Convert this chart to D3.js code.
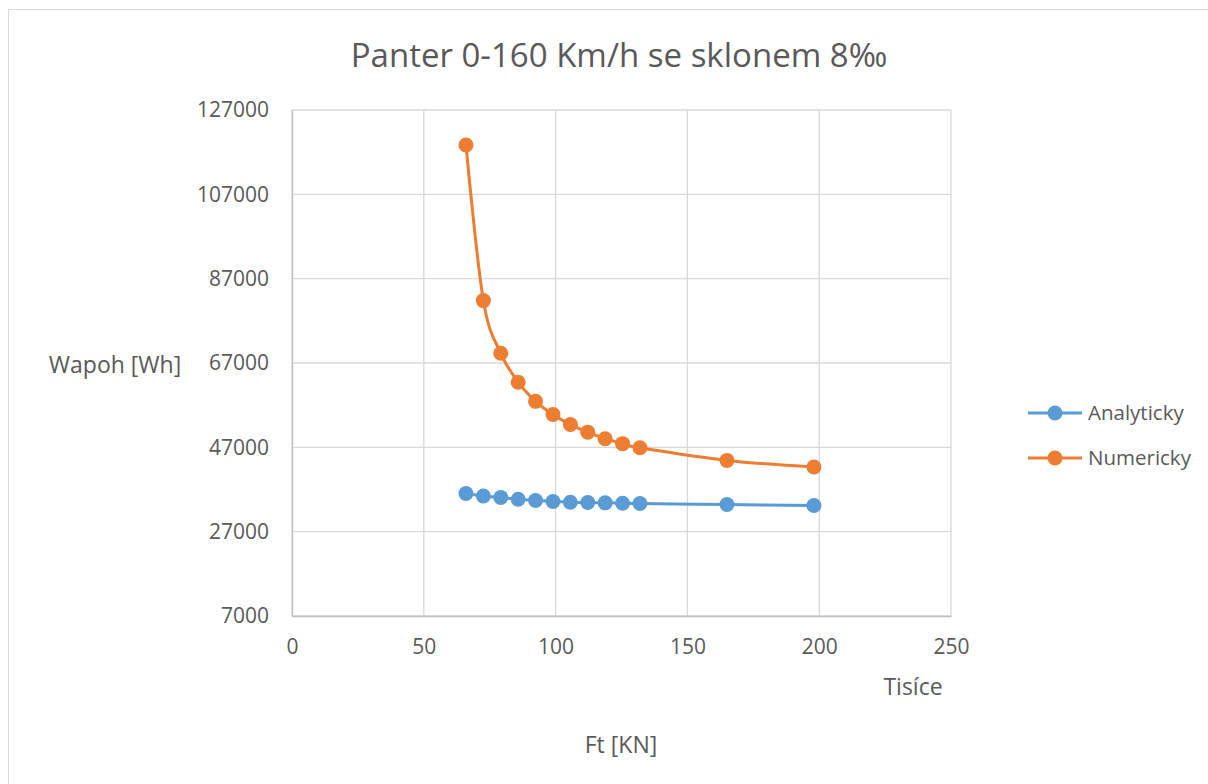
<!DOCTYPE html>
<html lang="cs">
<head>
    <meta charset="UTF-8">
    <title>Panter 0-160 Km/h se sklonem 8‰</title>
    <script src="https://d3js.org/d3.v7.min.js"></script>
    <style type="text/css">
        body { margin: 0; background: #fff; }
        text { font-family: 'Open Sans', sans-serif; fill: #595959; }
    </style>
</head>
<body>
    <svg width="1208" height="784"></svg>

    <script type="text/javascript">
        var ft = [66000, 72600, 79200, 85800, 92400, 99000, 105600, 112200, 118800, 125400, 132000, 165000, 198000];
        var analyticky = [36040, 35470, 35100, 34700, 34400, 34140, 33980, 33900, 33830, 33750, 33670, 33430, 33200];
        var numericky = [118700, 81800, 69300, 62450, 57900, 54800, 52400, 50600, 49050, 47870, 46900, 43900, 42350];
        var xTicks = [0, 50000, 100000, 150000, 200000, 250000];
        var yTicks = [7000, 27000, 47000, 67000, 87000, 107000, 127000];
        var seriesNames = ["Analyticky", "Numericky"];
        var colors = ["#5B9BD5", "#ED7D31"];

        var svg = d3.select("svg");
        var plotLeft = 292, plotRight = 951, plotTop = 110, plotBottom = 616;

        var x = d3.scaleLinear().domain([0, 250000]).range([plotLeft, plotRight]);
        var y = d3.scaleLinear().domain([7000, 127000]).range([plotBottom, plotTop]);

        // outer chart border
        svg.append("rect")
            .attr("x", 8.5).attr("y", 9.5)
            .attr("width", 1300).attr("height", 900)
            .attr("fill", "none").attr("stroke", "#d9d9d9");

        svg.append("text")
            .attr("x", 619).attr("y", 67)
            .attr("text-anchor", "middle")
            .style("font-size", "33px")
            .text("Panter 0-160 Km/h se sklonem 8‰");

        // grid
        var grid = svg.append("g").attr("stroke", "#d9d9d9").attr("stroke-width", 1.3);
        grid.selectAll("line.h").data(yTicks).join("line")
            .attr("x1", plotLeft).attr("x2", plotRight)
            .attr("y1", d => y(d)).attr("y2", d => y(d));
        grid.selectAll("line.v").data(xTicks).join("line")
            .attr("y1", plotTop).attr("y2", plotBottom)
            .attr("x1", d => x(d)).attr("x2", d => x(d));

        var xAxis = svg.append("g")
            .attr("transform", "translate(0," + plotBottom + ")")
            .call(d3.axisBottom(x).tickValues(xTicks).tickSize(0).tickPadding(23).tickFormat(d => d / 1000));
        var yAxis = svg.append("g")
            .attr("transform", "translate(" + plotLeft + ",0)")
            .call(d3.axisLeft(y).tickValues(yTicks).tickSize(0).tickPadding(23).tickFormat(d3.format("d")));
        [xAxis, yAxis].forEach(function(a) {
            a.select(".domain").attr("stroke", "#bfbfbf").attr("stroke-width", 1.3);
            a.selectAll("text").style("font-size", "21px").attr("fill", "#595959");
        });

        svg.append("text").attr("x", 913).attr("y", 695)
            .attr("text-anchor", "middle").style("font-size", "23px").text("Tisíce");
        svg.append("text").attr("x", 621).attr("y", 753)
            .attr("text-anchor", "middle").style("font-size", "23px").text("Ft [KN]");
        svg.append("text").attr("x", 115).attr("y", 373)
            .attr("text-anchor", "middle").style("font-size", "23px").text("Wapoh [Wh]");

        var line = d3.line()
            .x(d => x(d[0])).y(d => y(d[1]))
            .curve(d3.curveCardinal.tension(0));

        [analyticky, numericky].forEach(function(vals, i) {
            var pts = ft.map((f, j) => [f, vals[j]]);
            var g = svg.append("g");
            g.append("path").datum(pts)
                .attr("d", line)
                .attr("fill", "none")
                .attr("stroke", colors[i])
                .attr("stroke-width", 3)
                .attr("stroke-linejoin", "round");
            g.selectAll("circle").data(pts).join("circle")
                .attr("cx", d => x(d[0])).attr("cy", d => y(d[1]))
                .attr("r", 7.5)
                .attr("fill", colors[i]);
        });

        // legend
        var legend = svg.append("g");
        seriesNames.forEach(function(name, i) {
            var ly = 413 + i * 45;
            legend.append("line")
                .attr("x1", 1028).attr("x2", 1082)
                .attr("y1", ly).attr("y2", ly)
                .attr("stroke", colors[i]).attr("stroke-width", 3);
            legend.append("circle")
                .attr("cx", 1055).attr("cy", ly).attr("r", 7.5)
                .attr("fill", colors[i]);
            legend.append("text")
                .attr("x", 1088).attr("y", ly + 7)
                .style("font-size", "20.5px")
                .text(name);
        });
    </script>
</body>
</html>
